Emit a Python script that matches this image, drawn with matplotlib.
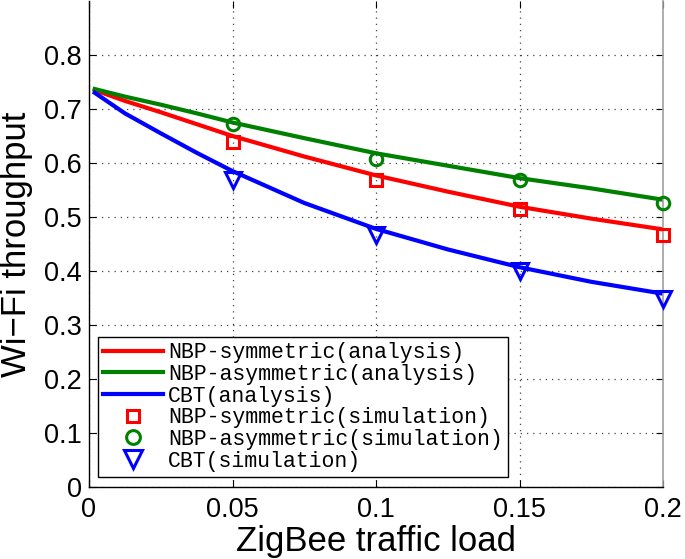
import matplotlib
matplotlib.use("Agg")
import matplotlib.pyplot as plt

# ---- data ----
x_line = [0.002, 0.0125, 0.025, 0.0375, 0.05, 0.075, 0.1, 0.125, 0.15, 0.175, 0.2]
nbp_sym_analysis = [0.735, 0.715, 0.694, 0.672, 0.650, 0.612, 0.577, 0.547, 0.519, 0.497, 0.477]
nbp_asym_analysis = [0.737, 0.723, 0.708, 0.692, 0.675, 0.646, 0.618, 0.595, 0.572, 0.553, 0.532]
cbt_analysis = [0.730, 0.692, 0.655, 0.619, 0.585, 0.526, 0.478, 0.440, 0.407, 0.380, 0.358]

x_sim = [0.05, 0.1, 0.15, 0.2]
nbp_sym_sim = [0.639, 0.569, 0.514, 0.466]
nbp_asym_sim = [0.672, 0.608, 0.569, 0.526]
cbt_sim = [0.568, 0.466, 0.400, 0.348]

x_ticks = [0, 0.05, 0.1, 0.15, 0.2]
x_ticklabels = ["0", "0.05", "0.1", "0.15", "0.2"]
y_ticks = [0, 0.1, 0.2, 0.3, 0.4, 0.5, 0.6, 0.7, 0.8]
y_ticklabels = ["0", "0.1", "0.2", "0.3", "0.4", "0.5", "0.6", "0.7", "0.8"]

labels = ["NBP-symmetric(analysis)", "NBP-asymmetric(analysis)", "CBT(analysis)",
          "NBP-symmetric(simulation)", "NBP-asymmetric(simulation)", "CBT(simulation)"]

RED = (1, 0, 0)
GREEN = (0, 0.5, 0)
BLUE = (0, 0, 1)

plt.rcParams['font.family'] = ['Liberation Sans', 'DejaVu Sans']

fig = plt.figure(figsize=(6.85, 5.59), dpi=100)
ax = fig.add_axes([89 / 685, 72 / 559, 574 / 685, 486 / 559])

ax.plot(x_line, nbp_sym_analysis, color=RED, lw=3, label=labels[0],
        solid_joinstyle='round')
ax.plot(x_line, nbp_asym_analysis, color=GREEN, lw=3, label=labels[1],
        solid_joinstyle='round')
ax.plot(x_line, cbt_analysis, color=BLUE, lw=3, label=labels[2],
        solid_joinstyle='round')

ax.plot(x_sim, nbp_sym_sim, linestyle='none', marker='s', ms=8, mew=2.2,
        mfc='none', mec=RED, label=labels[3], clip_on=False, zorder=4)
ax.plot(x_sim, nbp_asym_sim, linestyle='none', marker='o', ms=9, mew=2.2,
        mfc='none', mec=GREEN, label=labels[4], clip_on=False, zorder=4)
ax.plot(x_sim, cbt_sim, linestyle='none', marker='v', ms=12, mew=2.2,
        mfc='none', mec=BLUE, label=labels[5], clip_on=False, zorder=4)

ax.set_xlim(0, 0.2)
ax.set_ylim(0, 0.9)
ax.set_xticks(x_ticks)
ax.set_xticklabels(x_ticklabels)
ax.set_yticks(y_ticks)
ax.set_yticklabels(y_ticklabels)
ax.tick_params(axis='both', labelsize=19.5, direction='in', length=5,
               width=0.8, colors='black', top=True, right=True)
ax.tick_params(axis='x', pad=7)
ax.tick_params(axis='y', pad=5)

ax.grid(True, color='#444444', linestyle=(0, (1, 4)), lw=0.9)
ax.set_axisbelow(True)

for s in ['left', 'bottom']:
    ax.spines[s].set_color('black')
    ax.spines[s].set_linewidth(1)
ax.spines['right'].set_color('#a0a0a0')
ax.spines['right'].set_linewidth(1.2)
ax.spines['top'].set_visible(False)

ax.set_xlabel("ZigBee traffic load", fontsize=25, labelpad=2)
ax.set_ylabel("Wi\u2212Fi throughput", fontsize=25, labelpad=8)

leg = ax.legend(loc='lower left', bbox_to_anchor=(0.0157, 0.0206),
                borderaxespad=0, fancybox=False, framealpha=1,
                edgecolor='black', prop={'family': 'Liberation Mono', 'size': 15.5},
                handlelength=2.75, handletextpad=0.25, labelspacing=0.03,
                borderpad=0.25, markerscale=1.1)
leg.get_frame().set_linewidth(1)

fig.savefig("out.png", dpi=100)
